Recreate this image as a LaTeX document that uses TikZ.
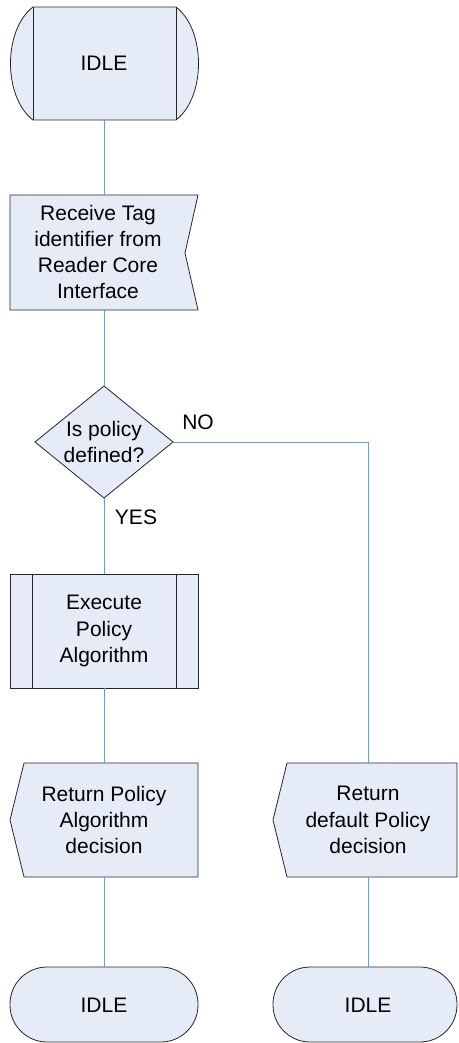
\documentclass[tikz,border=0pt]{standalone}
\usepackage{fontspec}
\setmainfont{Liberation Sans}
\definecolor{shapefill}{RGB}{230,236,247}
\definecolor{linkblue}{RGB}{112,155,218}
\begin{document}
\begin{tikzpicture}[x=1pt,y=-1pt,
  shapeline/.style={draw=black!85,line width=0.8pt,fill=shapefill,line join=miter},
  inner/.style={draw=black!85,line width=0.8pt},
  link/.style={draw=linkblue,line width=0.9pt},
  lbl/.style={font=\fontsize{21}{26.3}\selectfont,align=center,inner sep=0pt},
  edgelbl/.style={font=\fontsize{21}{26.3}\selectfont,inner sep=0pt}]
\useasboundingbox (0,0) rectangle (458,1043);
% top IDLE
\path[shapeline] (33,7) -- (176,7) .. controls (206,30) and (206,97) .. (176,120) -- (33,120) .. controls (3,97) and (3,30) .. (33,7) -- cycle;
\draw[inner] (33,7) -- (33,120) (176,7) -- (176,120);
\node[lbl] (idle1) at (104,63) {IDLE};
\coordinate (idle1b) at (104,120);
% receive
\path[shapeline] (10,195) -- (198,195) -- (185,253) -- (198,310) -- (10,310) -- cycle;
\node[lbl] (recv) at (98,252) {Receive Tag\\identifier from\\Reader Core\\Interface};
\coordinate (recvt) at (104,195);
\coordinate (recvb) at (104,310);
% decision
\path[shapeline] (104,386) -- (173,442) -- (104,498) -- (35,442) -- cycle;
\node[lbl] (dec) at (104,442) {Is policy\\defined?};
\coordinate (dect) at (104,386);
\coordinate (decb) at (104,498);
\coordinate (decr) at (173,442);
\node[edgelbl] (no) at (198,422) {NO};
\node[edgelbl] (yes) at (136,517) {YES};
% execute
\path[shapeline] (10,574) rectangle (198,688);
\draw[inner] (32,574) -- (32,688) (176,574) -- (176,688);
\node[lbl] (exec) at (104,631) {Execute\\Policy\\Algorithm};
\coordinate (exect) at (104,574);
\coordinate (execb) at (104,688);
% return policy
\path[shapeline] (24,763) -- (198,763) -- (198,877) -- (24,877) -- (10,820) -- cycle;
\node[lbl] (ret1) at (104,820) {Return Policy\\Algorithm\\decision};
\coordinate (ret1t) at (104,763);
\coordinate (ret1b) at (104,877);
% return default
\path[shapeline] (287,763) -- (457,763) -- (457,877) -- (287,877) -- (273,820) -- cycle;
\node[lbl] (ret2) at (368,820) {Return\\default Policy\\decision};
\coordinate (ret2t) at (368,763);
\coordinate (ret2b) at (368,877);
% bottom IDLEs
\path[shapeline,rounded corners=37pt] (10,967) rectangle (198,1042);
\node[lbl] (idle2) at (104,1005) {IDLE};
\coordinate (idle2t) at (104,967);
\path[shapeline,rounded corners=37pt] (273,967) rectangle (457,1042);
\node[lbl] (idle3) at (368,1005) {IDLE};
\coordinate (idle3t) at (368,967);
% connectors
\draw[link] (idle1b) -- (recvt);
\draw[link] (recvb) -- (dect);
\draw[link] (decb) -- (exect);
\draw[link] (execb) -- (ret1t);
\draw[link] (ret1b) -- (idle2t);
\draw[link] (decr) -| (ret2t);
\draw[link] (ret2b) -- (idle3t);
\end{tikzpicture}
\end{document}
